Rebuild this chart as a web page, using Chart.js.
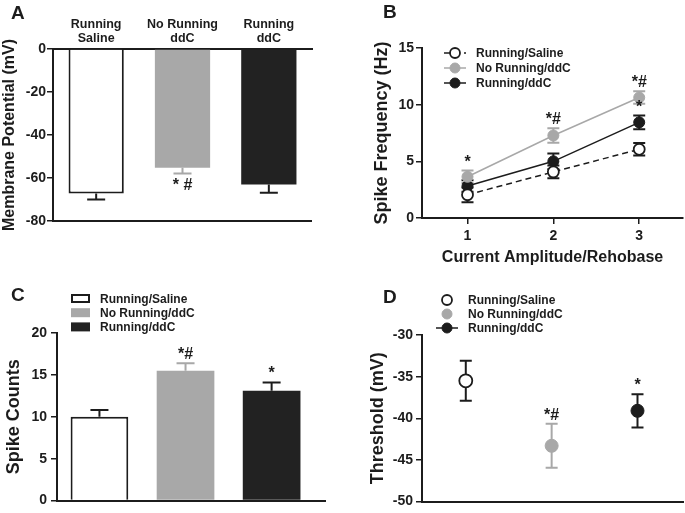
<!DOCTYPE html>
<html>
<head>
<meta charset="utf-8">
<title>Running / ddC</title>
<script src="https://cdn.jsdelivr.net/npm/chart.js@4.4.1/dist/chart.umd.min.js"></script>
<style>
  body { margin: 0; background: #fff; }
  #fig { position: relative; width: 685px; height: 513px; overflow: hidden; }
  #fig canvas { position: absolute; }
  .tag { position: absolute; font: bold 19px "Liberation Sans", Arial, sans-serif; color: #1c1c1c; line-height: 1; }
</style>
</head>
<body>
<div id="fig">
  <canvas id="chartA" width="340" height="250" style="left:0;top:0"></canvas>
  <canvas id="chartB" width="345" height="270" style="left:340px;top:0"></canvas>
  <canvas id="chartC" width="340" height="243" style="left:0;top:270px"></canvas>
  <canvas id="chartD" width="345" height="243" style="left:340px;top:270px"></canvas>
  <div class="tag" style="left:11px;top:3px">A</div>
  <div class="tag" style="left:383px;top:2px">B</div>
  <div class="tag" style="left:11px;top:285px">C</div>
  <div class="tag" style="left:383px;top:287px">D</div>
</div>
<script>
// groups
const groups = ['Running/Saline', 'No Running/ddC', 'Running/ddC'];
const groupLabelsA = [['Running', 'Saline'], ['No Running', 'ddC'], ['Running', 'ddC']];
const groupPos = [1, 2, 3];

// A - membrane potential
const potential = [-67.2, -55.2, -63.0];
const potentialErr = [2.8, 2.7, 3.9];
const potentialNotes = ['', '* #', ''];
const potentialTicks = [0, -20, -40, -60, -80];

// B - spike frequency
const amplitude = [1, 2, 3];
const freqSaline = [2.05, 4.07, 6.06];
const freqNoRun = [3.64, 7.28, 10.63];
const freqRun = [2.82, 5.0, 8.44];
const freqSalineErr = [0.65, 0.57, 0.55];
const freqNoRunErr = [0.55, 0.65, 0.55];
const freqRunErr = [0.5, 0.7, 0.6];
const freqNoRunNotes = ['*', '*#', '*#'];
const freqRunNotes = ['', '', '*'];
const freqTicks = [0, 5, 10, 15];

// C - spike counts
const spikeCounts = [10.0, 15.5, 13.1];
const spikeErr = [0.8, 0.9, 1.0];
const spikeNotes = ['', '*#', '*'];
const countTicks = [0, 5, 10, 15, 20];

// D - threshold
const threshold = [-35.5, -43.3, -39.1];
const thresholdErr = [2.4, 2.65, 2.0];
const thresholdNotes = ['', '*#', '*'];
const thresholdTicks = [-30, -35, -40, -45, -50];

const ink = '#1c1c1c';
const gray = '#a8a8a8';
const fills = ['#ffffff', gray, '#222222'];
const strokes = [ink, gray, ink];
const FONT = '"Liberation Sans", Arial, sans-serif';

function valueOf(raw) {
    return (raw !== null && typeof raw === 'object') ? raw.y : raw;
}

// error bars + significance marks, read from dataset.errors / dataset.notes
function errorBars(mode, cap) {
    function ends(v, e) {
        if (mode === 'both') return [v - e, v + e];
        return v < 0 ? [v - e, v] : [v, v + e];
    }
    return {
        id: 'errorBars',
        beforeDatasetsDraw(chart) {
            const ctx = chart.ctx;
            const ys = chart.scales.y;
            ctx.save();
            ctx.lineWidth = 2;
            chart.data.datasets.forEach((ds, d) => {
                chart.getDatasetMeta(d).data.forEach((el, i) => {
                    const v = valueOf(ds.data[i]);
                    const [lo, hi] = ends(v, ds.errors[i]);
                    const yl = ys.getPixelForValue(lo);
                    const yh = ys.getPixelForValue(hi);
                    ctx.strokeStyle = Array.isArray(ds.errColor) ? ds.errColor[i] : ds.errColor;
                    ctx.beginPath();
                    ctx.moveTo(el.x, yl);
                    ctx.lineTo(el.x, yh);
                    if (mode === 'both' || v < 0) {
                        ctx.moveTo(el.x - cap / 2, yl);
                        ctx.lineTo(el.x + cap / 2, yl);
                    }
                    if (mode === 'both' || v >= 0) {
                        ctx.moveTo(el.x - cap / 2, yh);
                        ctx.lineTo(el.x + cap / 2, yh);
                    }
                    ctx.stroke();
                });
            });
            ctx.restore();
        },
        afterDatasetsDraw(chart) {
            const ctx = chart.ctx;
            const ys = chart.scales.y;
            ctx.save();
            ctx.fillStyle = ink;
            ctx.font = 'bold 16px ' + FONT;
            ctx.textAlign = 'center';
            chart.data.datasets.forEach((ds, d) => {
                if (!ds.notes) return;
                chart.getDatasetMeta(d).data.forEach((el, i) => {
                    const t = ds.notes[i];
                    if (!t) return;
                    const v = valueOf(ds.data[i]);
                    const [lo, hi] = ends(v, ds.errors[i]);
                    if (mode !== 'both' && v < 0) {
                        ctx.textBaseline = 'top';
                        ctx.fillText(t, el.x, ys.getPixelForValue(lo) + 4);
                    } else {
                        ctx.textBaseline = 'alphabetic';
                        ctx.fillText(t, el.x, ys.getPixelForValue(hi) - 4);
                    }
                });
            });
            ctx.restore();
        }
    };
}

const bottomLine = {
    id: 'bottomLine',
    afterDraw(chart) {
        const ctx = chart.ctx;
        const a = chart.chartArea;
        ctx.save();
        ctx.strokeStyle = ink;
        ctx.lineWidth = 2;
        ctx.beginPath();
        ctx.moveTo(a.left - 1, a.bottom);
        ctx.lineTo(a.right, a.bottom);
        ctx.stroke();
        ctx.restore();
    }
};

// legend with point symbols (B, D)
function pointLegend(x, y, gap, withLine) {
    return {
        id: 'pointLegend',
        afterDraw(chart) {
            const ctx = chart.ctx;
            ctx.save();
            chart.data.datasets.forEach((ds, d) => {
                const cy = y + d * gap;
                if (withLine[d]) {
                    ctx.strokeStyle = ds.borderColor;
                    ctx.lineWidth = 1.5;
                    ctx.setLineDash(ds.borderDash || []);
                    ctx.beginPath();
                    ctx.moveTo(x - 11, cy);
                    ctx.lineTo(x + 11, cy);
                    ctx.stroke();
                    ctx.setLineDash([]);
                }
                ctx.beginPath();
                ctx.arc(x, cy, 5, 0, Math.PI * 2);
                ctx.fillStyle = ds.pointBackgroundColor;
                ctx.fill();
                ctx.lineWidth = ds.pointBorderWidth;
                ctx.strokeStyle = ds.pointBorderColor;
                ctx.stroke();
                ctx.fillStyle = ink;
                ctx.font = 'bold 12px ' + FONT;
                ctx.textBaseline = 'middle';
                ctx.fillText(ds.label, x + 21, cy + 1);
            });
            ctx.restore();
        }
    };
}

// legend with boxes (C)
function boxLegend(x, y, gap) {
    return {
        id: 'boxLegend',
        afterDraw(chart) {
            const ctx = chart.ctx;
            ctx.save();
            groups.forEach((g, i) => {
                const cy = y + i * gap;
                ctx.fillStyle = fills[i];
                ctx.fillRect(x, cy - 4.5, 19, 9);
                if (i === 0) {
                    ctx.strokeStyle = ink;
                    ctx.lineWidth = 2;
                    ctx.strokeRect(x + 1, cy - 3.5, 17, 7);
                }
                ctx.fillStyle = ink;
                ctx.font = 'bold 12px ' + FONT;
                ctx.textBaseline = 'middle';
                ctx.fillText(g, x + 29, cy + 1);
            });
            ctx.restore();
        }
    };
}

function yAxis(ticks, title, titleSize, width, titlePad, tickPad) {
    return {
        min: Math.min(...ticks),
        max: Math.max(...ticks),
        afterBuildTicks: s => { s.ticks = ticks.map(v => ({ value: v })); },
        ticks: { color: ink, padding: tickPad, font: { family: FONT, size: 14, weight: 'bold' } },
        grid: { drawOnChartArea: false, tickLength: 6, color: ink, lineWidth: 1.5 },
        border: { color: ink, width: 2 },
        title: {
            display: true, text: title, color: ink,
            font: { family: FONT, size: titleSize, weight: 'bold' },
            padding: { top: titlePad, bottom: 0 }
        },
        afterFit: s => { s.width = width; }
    };
}

const base = {
    responsive: false,
    animation: false,
    devicePixelRatio: 1,
    plugins: { legend: { display: false }, tooltip: { enabled: false } }
};

// ---- A ----
new Chart(document.getElementById('chartA'), {
    type: 'bar',
    data: {
        labels: groupLabelsA,
        datasets: [{
            data: potential,
            errors: potentialErr,
            notes: potentialNotes,
            errColor: strokes,
            backgroundColor: fills,
            borderColor: strokes,
            borderWidth: [2, 0, 0],
            categoryPercentage: 1,
            barPercentage: 0.64
        }]
    },
    options: {
        ...base,
        layout: { autoPadding: false, padding: { left: 0, top: 0, right: 28, bottom: 29 } },
        scales: {
            x: {
                position: 'top',
                ticks: { color: ink, padding: 3, font: { family: FONT, size: 12.5, weight: 'bold', lineHeight: 1.15 } },
                grid: { display: false, drawTicks: false },
                border: { color: ink, width: 2 },
                afterFit: s => { s.height = 49; }
            },
            y: yAxis(potentialTicks, 'Membrane Potential (mV)', 16, 53, 0, 1)
        }
    },
    plugins: [errorBars('away', 18), bottomLine]
});

// ---- B ----
function series(vals) {
    return amplitude.map((x, i) => ({ x: x, y: vals[i] }));
}
new Chart(document.getElementById('chartB'), {
    type: 'line',
    data: {
        datasets: [
            {
                label: groups[0], data: series(freqSaline), errors: freqSalineErr, errColor: ink,
                borderColor: ink, borderWidth: 1.5, borderDash: [6, 4],
                pointRadius: 5.5, pointBackgroundColor: '#ffffff', pointBorderColor: ink, pointBorderWidth: 1.8
            },
            {
                label: groups[1], data: series(freqNoRun), errors: freqNoRunErr, errColor: gray, notes: freqNoRunNotes,
                borderColor: gray, borderWidth: 1.5,
                pointRadius: 5.5, pointBackgroundColor: gray, pointBorderColor: gray, pointBorderWidth: 1
            },
            {
                label: groups[2], data: series(freqRun), errors: freqRunErr, errColor: ink, notes: freqRunNotes,
                borderColor: ink, borderWidth: 1.5,
                pointRadius: 5.5, pointBackgroundColor: ink, pointBorderColor: ink, pointBorderWidth: 1
            }
        ]
    },
    options: {
        ...base,
        layout: { autoPadding: false, padding: { left: 0, top: 48, right: 2, bottom: 0 } },
        scales: {
            x: {
                type: 'linear', min: 0.47, max: 3.51,
                afterBuildTicks: s => { s.ticks = amplitude.map(v => ({ value: v })); },
                ticks: { color: ink, padding: 4, font: { family: FONT, size: 14, weight: 'bold' } },
                grid: { drawOnChartArea: false, tickLength: 6, color: ink, lineWidth: 1.5 },
                border: { color: ink, width: 2 },
                title: {
                    display: true, text: 'Current Amplitude/Rehobase', color: ink,
                    font: { family: FONT, size: 16, weight: 'bold' }, padding: { top: 0, bottom: 3 }
                },
                afterFit: s => { s.height = 52; }
            },
            y: yAxis(freqTicks, 'Spike Frequency (Hz)', 18, 82, 31, 2)
        }
    },
    plugins: [errorBars('both', 12), pointLegend(115, 53, 15, [true, true, true])]
});

// ---- C ----
new Chart(document.getElementById('chartC'), {
    type: 'bar',
    data: {
        datasets: [{
            data: groupPos.map((x, i) => ({ x: x, y: spikeCounts[i] })),
            errors: spikeErr,
            notes: spikeNotes,
            errColor: strokes,
            backgroundColor: fills,
            borderColor: strokes,
            borderWidth: [2, 0, 0],
            categoryPercentage: 1,
            barPercentage: 0.67
        }]
    },
    options: {
        ...base,
        layout: { autoPadding: false, padding: { left: 0, top: 63, right: 15, bottom: 11 } },
        scales: {
            x: {
                type: 'linear', min: 0.507, max: 3.62, offset: false,
                afterBuildTicks: s => { s.ticks = groupPos.map(v => ({ value: v })); },
                ticks: { display: false },
                grid: { display: false, offset: false },
                border: { color: ink, width: 2 },
                afterFit: s => { s.height = 0; }
            },
            y: yAxis(countTicks, 'Spike Counts', 18, 57, 3, 4)
        }
    },
    plugins: [errorBars('away', 18), boxLegend(71, 28.5, 14.2)]
});

// ---- D ----
const pointStyle = [
    { pointBackgroundColor: '#ffffff', pointBorderColor: ink, pointBorderWidth: 1.8, borderColor: ink },
    { pointBackgroundColor: gray, pointBorderColor: gray, pointBorderWidth: 1, borderColor: gray },
    { pointBackgroundColor: ink, pointBorderColor: ink, pointBorderWidth: 1, borderColor: ink }
];
new Chart(document.getElementById('chartD'), {
    type: 'scatter',
    data: {
        datasets: groups.map((g, i) => ({
            label: g,
            data: [{ x: groupPos[i], y: threshold[i] }],
            errors: [thresholdErr[i]],
            notes: [thresholdNotes[i]],
            errColor: strokes[i],
            pointRadius: 6.5,
            ...pointStyle[i]
        }))
    },
    options: {
        ...base,
        layout: { autoPadding: false, padding: { left: 0, top: 65, right: 2, bottom: 8 } },
        scales: {
            x: {
                type: 'linear', min: 0.49, max: 3.53,
                ticks: { display: false },
                grid: { display: false },
                border: { color: ink, width: 2 },
                afterFit: s => { s.height = 0; }
            },
            y: yAxis(thresholdTicks, 'Threshold (mV)', 18, 82, 27, 3)
        }
    },
    plugins: [errorBars('both', 12), pointLegend(107, 30, 14, [false, false, true])]
});
</script>
</body>
</html>
